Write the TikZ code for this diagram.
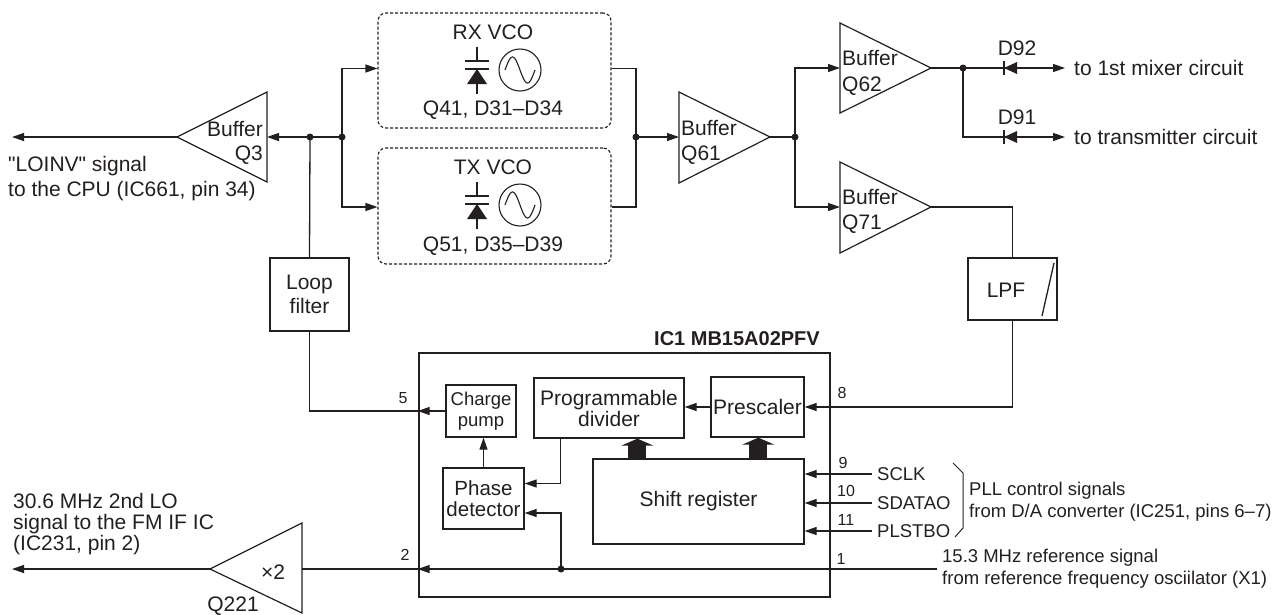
\documentclass[tikz,border=0pt]{standalone}
\usepackage{fontspec}
\setmainfont{Liberation Sans}
\newfontfamily\qfont{Liberation Sans}[Ligatures=TeXOff]
\usetikzlibrary{arrows.meta,calc}
\definecolor{ink}{RGB}{35,31,32}
\newcommand\fmain{\fontsize{21}{24}\selectfont}
\newcommand\fsmall{\fontsize{18.5}{22}\selectfont}
\newcommand\fpin{\fontsize{16}{18}\selectfont}
\newcommand\sq{{\qfont"}}
\begin{document}
\begin{tikzpicture}[x=1pt,y=-1pt,
  ln/.style={draw=ink, line width=1.3pt},
  arr/.style={draw=ink, line width=1.3pt, -{Triangle[length=12pt,width=8pt]}},
  tri/.style={draw=ink, line width=1.2pt, line join=miter},
  bx/.style={draw=ink, line width=1.3pt, inner sep=0pt, align=center, text=ink, font=\fmain},
  tx/.style={inner sep=0pt, text=ink, align=left, font=\fmain},
  pinlbl/.style={inner sep=0pt, text=ink, font=\fpin},
  jdot/.style={circle, fill=ink, inner sep=0pt, minimum size=7pt},
  vco/.style={draw=ink, line width=1.1pt, dash pattern=on 3pt off 2pt, rounded corners=8pt, inner sep=0pt},
  blk/.style={draw=ink, line width=18pt, -{Triangle[width=32pt,length=7pt]}},
  vosc/.pic={
    \draw[ln] (0,-23) -- (0,-9) (-12,-9) -- (12,-9) (-12,-1) -- (12,-1) (0,14) -- (0,24);
    \fill[ink] (0,-1) -- (-10,14) -- (10,14) -- cycle;
    \draw[draw=ink, line width=1.1pt] (43,0) circle[radius=21];
    \draw[draw=ink, line width=1.1pt] plot[domain=0:360, samples=41, smooth] ({28+\x/12}, {-13*sin(\x)});
  },
  diodeL/.pic={
    \draw[ln] (0,-7) -- (0,7);
    \fill[ink] (0,0) -- (13,-6) -- (13,6) -- cycle;
  }
]
\useasboundingbox (0,0) rectangle (1282,614);

% ---------------- Buffer Q3 ----------------
\coordinate (q3in) at (267,137);
\coordinate (q3out) at (177,137);
\draw[tri] (267,92) -- (267,182) -- (q3out) -- cycle;
\node[tx, anchor=east, align=right] (q3t) at (263,143) {Buffer\\Q3};
\coordinate (loinvend) at (12,137);
\draw[arr] (q3out) -- (loinvend);
\node[tx, anchor=north west, font={\fontsize{21}{25}\selectfont}] (loinv) at (8,156) {\sq LOINV\sq{} signal\\to the CPU (IC661, pin 34)};

\node[jdot] (j1) at (310,137) {};
\node[jdot] (j2) at (342,137) {};
\draw[arr] (j2.center) -- (q3in);

% ---------------- VCOs ----------------
\node[vco, minimum width=233pt, minimum height=115pt] (rx) at (494.5,70.5) {};
\node[vco, minimum width=233pt, minimum height=116pt] (tx) at (494.5,206) {};
\node[tx] (rxt) at (493,32) {RX VCO};
\node[tx] (rxq) at (493,110) {Q41, D31–D34};
\node[tx] (txt) at (493,167) {TX VCO};
\node[tx] (txq) at (493,246) {Q51, D35–D39};
\pic at (477,70) {vosc};
\pic at (477,205) {vosc};
\draw[arr] (j2.center) |- ([yshift=2pt]rx.west);
\draw[arr] (j2.center) |- ([yshift=-1pt]tx.west);

\node[jdot] (j3) at (636,137) {};
\draw[ln] ([yshift=2pt]rx.east) -| (j3.center) |- ([yshift=-1pt]tx.east);

% ---------------- Buffer Q61 ----------------
\coordinate (q61in) at (679,137);
\coordinate (q61out) at (770,137);
\draw[tri] (679,92) -- (679,183) -- (q61out) -- cycle;
\node[tx, anchor=west, font={\fontsize{21}{25}\selectfont}] (q61t) at (681,142) {Buffer\\Q61};
\draw[arr] (j3.center) -- (q61in);

\node[jdot] (j4) at (795,137) {};
\draw[ln] (q61out) -- (j4.center);

% ---------------- Buffer Q62 / Q71 ----------------
\coordinate (q62in) at (840,68);
\coordinate (q62out) at (931,68);
\draw[tri] (840,23) -- (840,113) -- (q62out) -- cycle;
\node[tx, anchor=west, font={\fontsize{21}{26}\selectfont}] (q62t) at (842,73) {Buffer\\Q62};
\coordinate (q71in) at (840,207);
\coordinate (q71out) at (931,207);
\draw[tri] (840,162) -- (840,253) -- (q71out) -- cycle;
\node[tx, anchor=west, font={\fontsize{21}{25}\selectfont}] (q71t) at (842,211) {Buffer\\Q71};
\draw[arr] (j4.center) |- (q62in);
\draw[arr] (j4.center) |- (q71in);

% ---------------- outputs D92 / D91 ----------------
\node[jdot] (j5) at (963,68) {};
\coordinate (d92) at (1004,68);
\coordinate (d91) at (1004,137);
\node[tx, anchor=west, inner xsep=9pt] (mix) at (1065,68) {to 1st mixer circuit};
\node[tx, anchor=west, inner xsep=9pt] (trans) at (1065,137) {to transmitter circuit};
\draw[ln] (q62out) -- (j5.center) -- (d92);
\draw[ln] (j5.center) |- (d91);
\draw[arr] (d92) -- (mix.west);
\draw[arr] (d91) -- (trans.west);
\pic at (d92) {diodeL};
\pic at (d91) {diodeL};
\node[tx] (d92t) at (1017,48) {D92};
\node[tx] (d91t) at (1017,117) {D91};

% ---------------- LPF ----------------
\node[bx, minimum width=89pt, minimum height=62pt] (lpf) at (1012.5,289) {};
\node[tx] (lpft) at (1006,290) {LPF};
\draw[ln] (1054,263) -- (1042,316);
\draw[ln] (q71out) -| (lpf.north);

% ---------------- Loop filter ----------------
\node[bx, minimum width=79pt, minimum height=73pt] (lf) at (309.5,294.5) {Loop\\filter};
\draw[ln] (j1.center) -- (lf.north);

% ---------------- IC1 ----------------
\node[draw=ink, line width=2.6pt, minimum width=411pt, minimum height=244pt, inner sep=0pt] (ic) at (624.5,475) {};
\node[tx, anchor=base east, font={\fontsize{20}{24}\selectfont\bfseries}] (ictitle) at (820,345) {IC1 MB15A02PFV};

\node[bx, minimum width=70pt, minimum height=52pt, font={\fontsize{18.5}{21}\selectfont}] (cp) at (481,411) {Charge\\pump};
\node[bx, minimum width=150pt, minimum height=60pt, font={\fontsize{21}{21}\selectfont}] (pd) at (609,408) {Programmable\\divider};
\node[bx, minimum width=93pt, minimum height=60pt] (ps) at (757.5,407) {Prescaler};
\node[bx, minimum width=81pt, minimum height=61pt, font={\fontsize{20.5}{21}\selectfont}] (ph) at (483.5,498.5) {Phase\\detector};
\node[bx, minimum width=211pt, minimum height=85pt] (sr) at (698.5,501.5) {Shift register};

\coordinate (p5) at (cp.west -| ic.west);
\draw[ln] (lf.south) |- (p5);
\draw[arr] (cp.west) -- (p5);
\draw[arr] (ph.north) -- (ph.north |- cp.south);
\draw[arr] ([xshift=27pt]pd.south west) |- ([yshift=15pt]ph.east);
\draw[arr] (ps.west) -- (ps.west -| pd.east);
\draw[arr] (lpf.south) |- (ps.east);
\draw[blk] ([xshift=45pt]sr.north west) -- ([xshift=45pt]sr.north west |- pd.south);
\draw[blk] ([xshift=166pt]sr.north west) -- ([xshift=166pt]sr.north west |- ps.south);

% pins 9-11
\node[tx, anchor=west, inner xsep=5pt, font=\fsmall] (sclk) at (872,474) {SCLK};
\node[tx, anchor=west, inner xsep=5pt, font=\fsmall] (sdat) at (872,503) {SDATAO};
\node[tx, anchor=west, inner xsep=5pt, font=\fsmall] (plst) at (872,531) {PLSTBO};
\draw[arr] (sclk.west) -- (sclk.west -| sr.east);
\draw[arr] (sdat.west) -- (sdat.west -| sr.east);
\draw[arr] (plst.west) -- (plst.west -| sr.east);
\draw[draw=ink, line width=1pt] (953,463) -- (963,473) -- (963,528) -- (955,537);
\node[tx, anchor=west, font={\fontsize{18.5}{22}\selectfont}] (pll) at (969,502) {PLL control signals\\from D/A converter (IC251, pins 6–7)};

% pin 1 / pin 2
\node[tx, anchor=west, inner xsep=5pt, font={\fontsize{18.5}{22}\selectfont}] (ref) at (937,569) {15.3 MHz reference signal\\from reference frequency osciilator (X1)};
\node[jdot] (j6) at (561,569) {};
\coordinate (p2) at (ref.west -| ic.west);
\draw[arr] (ref.west) -- (p2);
\draw[arr] (j6.center) |- ([yshift=-14.5pt]ph.east);

% Q221
\coordinate (q221in) at (302,569);
\coordinate (q221out) at (210,569);
\draw[tri] (302,523) -- (302,613) -- (q221out) -- cycle;
\draw[ln] (p2) -- (q221in);
\coordinate (loend) at (12,569);
\draw[arr] (q221out) -- (loend);
\node[tx] (x2) at (273,572) {×2};
\node[tx, anchor=base] (q221t) at (233,611) {Q221};
\node[tx, anchor=west, font={\fontsize{21}{21}\selectfont}] (lo2) at (13,524) {30.6 MHz 2nd LO\\signal to the FM IF IC\\(IC231, pin 2)};

% pin numbers
\node[pinlbl] (n5) at (403,398) {5};
\node[pinlbl] (n2) at (405,555) {2};
\node[pinlbl] (n8) at (842,393) {8};
\node[pinlbl] (n9) at (843,463) {9};
\node[pinlbl] (n10) at (846,491) {10};
\node[pinlbl] (n11) at (846,520) {11};
\node[pinlbl] (n1) at (841,559) {1};
\end{tikzpicture}
\end{document}
